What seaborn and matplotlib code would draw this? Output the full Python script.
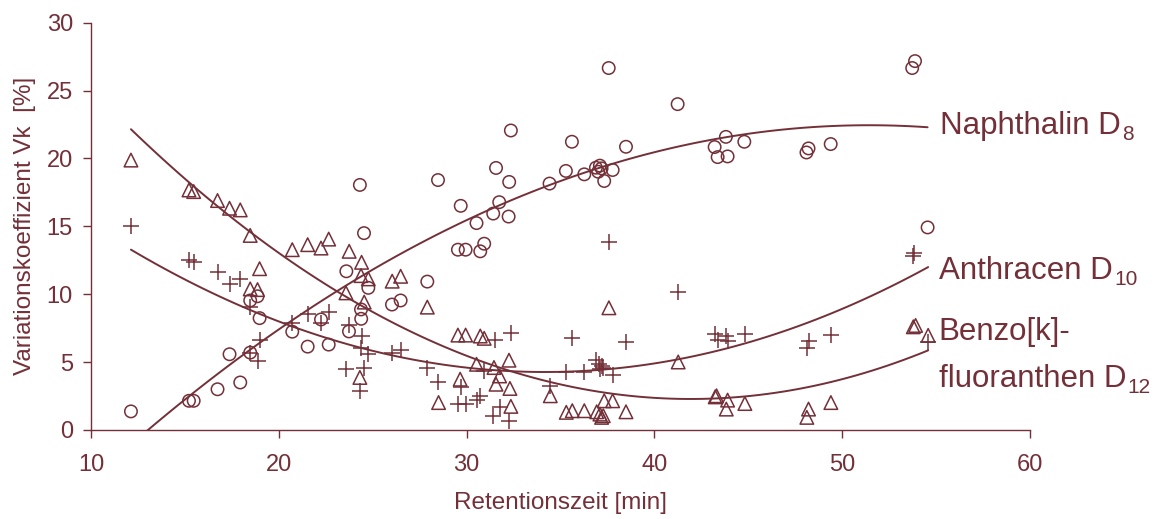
import numpy as np
import pandas as pd
import matplotlib
matplotlib.use("Agg")
import matplotlib.pyplot as plt
import seaborn as sns

# Retention time [min] and coefficient of variation Vk [%] per internal standard
naph_x = [12.13, 15.22, 15.47, 16.74, 17.95, 17.38, 18.48, 18.48, 18.87, 18.98,
          20.72, 21.54, 22.66, 22.25, 24.54, 23.60, 24.77, 24.38, 24.39, 23.74,
          26.03, 26.49, 27.91, 29.54, 29.95, 30.73, 30.94, 30.53, 24.32, 28.48,
          32.36, 31.57, 32.27, 35.61, 35.29, 34.42, 29.69, 31.74, 31.42, 32.24,
          37.57, 41.24, 36.27, 36.89, 37.10, 37.19, 37.01, 37.33, 37.78, 38.49,
          43.81, 43.21, 43.37, 43.90, 44.79, 48.21, 48.10, 49.39, 53.88, 53.73,
          54.55]
naph_y = [1.37, 2.15, 2.15, 3.00, 3.50, 5.58, 5.70, 9.54, 9.85, 8.24,
          7.24, 6.14, 6.29, 8.14, 14.50, 11.69, 10.47, 8.88, 8.19, 7.26,
          9.24, 9.54, 10.93, 13.28, 13.28, 13.16, 13.72, 15.24, 18.05, 18.41,
          22.06, 19.30, 18.27, 21.23, 19.08, 18.15, 16.51, 16.78, 15.94, 15.72,
          26.66, 24.00, 18.83, 19.32, 19.47, 19.27, 19.02, 18.34, 19.15, 20.86,
          21.59, 20.84, 20.10, 20.15, 21.23, 20.74, 20.44, 21.06, 27.17, 26.66,
          14.92]

anth_x = [12.13, 15.22, 15.47, 16.74, 17.95, 17.38, 18.48, 18.98, 18.48, 18.87,
          20.72, 21.54, 22.25, 22.66, 23.74, 24.41, 24.38, 24.77, 23.58, 24.55,
          24.32, 26.04, 26.49, 27.91, 28.48, 29.69, 29.54, 29.95, 30.53, 30.74,
          30.94, 31.54, 32.36, 31.76, 31.42, 32.26, 34.44, 35.29, 35.63, 37.58,
          41.27, 36.27, 36.89, 37.07, 37.19, 37.28, 37.10, 37.78, 38.49, 43.24,
          43.37, 43.81, 43.90, 44.82, 48.21, 48.12, 49.40, 53.79, 53.85, 54.58]
anth_y = [14.99, 12.49, 12.37, 11.64, 11.13, 10.76, 9.07, 6.63, 5.70, 5.09,
          7.85, 8.56, 7.85, 8.68, 7.70, 6.92, 6.07, 5.58, 4.52, 4.59,
          2.89, 5.70, 5.87, 4.55, 3.57, 3.13, 1.91, 1.91, 2.20, 2.52,
          4.35, 6.60, 7.12, 1.66, 1.05, 0.68, 3.25, 4.28, 6.80, 13.84,
          10.17, 4.28, 5.16, 4.84, 4.72, 4.59, 4.52, 4.04, 6.50, 7.04,
          6.63, 6.92, 6.55, 7.04, 6.55, 6.07, 6.97, 12.84, 13.04, 6.48]

benz_x = [12.13, 15.22, 15.47, 16.74, 17.38, 17.95, 18.48, 20.72, 21.54, 22.25,
          22.66, 18.98, 18.48, 18.87, 23.75, 24.41, 24.38, 24.77, 26.04, 26.49,
          23.58, 24.55, 27.91, 29.54, 29.95, 30.73, 30.94, 30.53, 31.46, 32.26,
          31.76, 31.57, 32.31, 29.66, 24.32, 28.51, 32.36, 34.46, 35.31, 35.63,
          37.58, 41.27, 36.27, 36.93, 37.10, 37.19, 37.28, 37.33, 37.78, 38.49,
          43.24, 43.31, 43.90, 43.83, 44.82, 48.21, 48.12, 49.40, 53.79, 53.91,
          54.58]
benz_y = [19.88, 17.68, 17.56, 16.90, 16.33, 16.21, 14.33, 13.28, 13.65, 13.40,
          14.06, 11.88, 10.39, 10.34, 13.16, 12.35, 11.37, 11.13, 10.96, 11.32,
          10.10, 9.42, 9.05, 6.99, 6.99, 6.92, 6.75, 4.84, 4.60, 5.14,
          3.98, 3.37, 3.06, 3.74, 3.87, 2.02, 1.74, 2.52, 1.30, 1.42,
          9.00, 5.01, 1.42, 1.34, 1.17, 0.93, 1.05, 2.15, 2.15, 1.34,
          2.44, 2.52, 2.20, 1.54, 1.95, 1.54, 0.93, 2.02, 7.60, 7.70,
          6.97]

x_ticks = [10, 20, 30, 40, 50, 60]
y_ticks = [0, 5, 10, 15, 20, 25, 30]

COLOR = "#733038"

sns.set_theme(style="ticks")
plt.rcParams["font.family"] = ["Liberation Sans", "DejaVu Sans"]

fig = plt.figure(figsize=(11.63, 5.19), dpi=100)
ax = fig.add_axes([0.0782, 0.1715, 0.8074, 0.7848])

series = [
    (naph_x, naph_y, "o", dict(s=80, facecolors="none", edgecolors=COLOR, linewidths=1.1)),
    (anth_x, anth_y, "+", dict(s=120, color=COLOR, linewidths=1.1)),
    (benz_x, benz_y, "^", dict(s=95, facecolors="none", edgecolors=COLOR, linewidths=1.1)),
]

for xs, ys, mk, kw in series:
    df = pd.DataFrame({"t": xs, "vk": ys})
    sns.scatterplot(data=df, x="t", y="vk", marker=mk, ax=ax, legend=False, **kw)
    # second-order polynomial trend line over the measured range
    sns.regplot(data=df, x="t", y="vk", order=2, ci=None, scatter=False,
                truncate=True, ax=ax, line_kws=dict(color=COLOR, lw=1.4))

ax.set_xlim(10, 60)
ax.set_ylim(0, 30)
ax.set_xticks(x_ticks)
ax.set_yticks(y_ticks)
ax.set_xlabel("Retentionszeit [min]", fontsize=17.5, color=COLOR, labelpad=12)
ax.set_ylabel("Variationskoeffizient Vk  [%]", fontsize=17.5, color=COLOR, labelpad=8)
ax.tick_params(axis="both", colors=COLOR, labelsize=17, length=6, width=1.0,
               direction="out")
ax.tick_params(axis="x", pad=11)
ax.tick_params(axis="y", pad=7)
for side in ("top", "right"):
    ax.spines[side].set_visible(False)
for side in ("left", "bottom"):
    ax.spines[side].set_color(COLOR)
    ax.spines[side].set_linewidth(1.0)

# Curve labels with subscript isotope count
fig.canvas.draw()


def label(x, y, main, sub=None):
    t = ax.text(x, y, main, fontsize=22.5, color=COLOR, ha="left", va="baseline",
                clip_on=False)
    if sub:
        fig.canvas.draw()
        w = t.get_window_extent().width * 72.0 / fig.dpi
        ax.annotate(sub, xy=(x, y), xycoords="data", xytext=(w + 1, -4),
                    textcoords="offset points", fontsize=15, color=COLOR,
                    ha="left", va="baseline", annotation_clip=False)


label(55.2, 21.8, "Naphthalin D", "8")
label(55.15, 11.1, "Anthracen D", "10")
label(55.15, 6.6, "Benzo[k]-")
label(55.15, 3.15, "fluoranthen D", "12")

fig.savefig("out.png", dpi=100)
